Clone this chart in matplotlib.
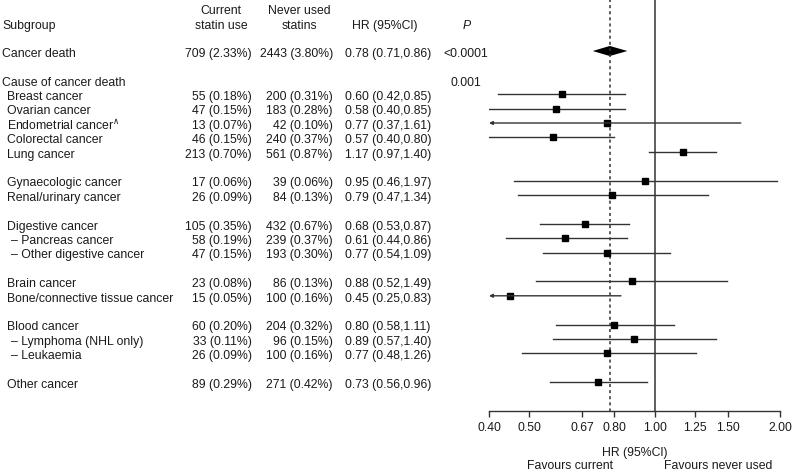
import matplotlib.pyplot as plt
import matplotlib.ticker as mticker

plt.rcParams['font.family'] = ['Liberation Sans', 'DejaVu Sans']
fs = 8.8
ink = '#1a1a1a'
line_c = '#333333'

# data
subgroups = ["Cancer death", "Cause of cancer death", "Breast cancer", "Ovarian cancer",
             "Endometrial cancer$^{\\wedge}$", "Colorectal cancer", "Lung cancer",
             "Gynaecologic cancer", "Renal/urinary cancer",
             "Digestive cancer", "\u2013 Pancreas cancer", "\u2013 Other digestive cancer",
             "Brain cancer", "Bone/connective tissue cancer",
             "Blood cancer", "\u2013 Lymphoma (NHL only)", "\u2013 Leukaemia",
             "Other cancer"]
rows = [0, 2, 3, 4, 5, 6, 7, 9, 10, 12, 13, 14, 16, 17, 19, 20, 21, 23]
indent = [0, 0, 1, 1, 1, 1, 1, 1, 1, 1, 2, 2, 1, 1, 1, 2, 2, 1]
current = ["709 (2.33%)", "", "55 (0.18%)", "47 (0.15%)", "13 (0.07%)", "46 (0.15%)",
           "213 (0.70%)", "17 (0.06%)", "26 (0.09%)", "105 (0.35%)", "58 (0.19%)",
           "47 (0.15%)", "23 (0.08%)", "15 (0.05%)", "60 (0.20%)", "33 (0.11%)",
           "26 (0.09%)", "89 (0.29%)"]
never = ["2443 (3.80%)", "", "200 (0.31%)", "183 (0.28%)", "42 (0.10%)", "240 (0.37%)",
         "561 (0.87%)", "39 (0.06%)", "84 (0.13%)", "432 (0.67%)", "239 (0.37%)",
         "193 (0.30%)", "86 (0.13%)", "100 (0.16%)", "204 (0.32%)", "96 (0.15%)",
         "100 (0.16%)", "271 (0.42%)"]
hr = [0.78, None, 0.60, 0.58, 0.77, 0.57, 1.17, 0.95, 0.79, 0.68, 0.61, 0.77,
      0.88, 0.45, 0.80, 0.89, 0.77, 0.73]
lo = [0.71, None, 0.42, 0.40, 0.37, 0.40, 0.97, 0.46, 0.47, 0.53, 0.44, 0.54,
      0.52, 0.25, 0.58, 0.57, 0.48, 0.56]
hi = [0.86, None, 0.85, 0.85, 1.61, 0.80, 1.40, 1.97, 1.34, 0.87, 0.86, 1.09,
      1.49, 0.83, 1.11, 1.40, 1.26, 0.96]
pvals = ["<0.0001", "0.001"] + [""] * 16
ticks = [0.40, 0.50, 0.67, 0.80, 1.00, 1.25, 1.50, 2.00]

W, H = 793, 477
row0, step = 52, 14.4
ytop = (0 - row0) / step
ybot = (H - row0) / step
axis_row = 25
dy = 0.12  # nudge text down so glyphs sit on the row

fig = plt.figure(figsize=(W / 100, H / 100), dpi=100)

# text panel, x in pixels, y in rows
tax = fig.add_axes([0, 0, 1, 1])
tax.set_xlim(0, W)
tax.set_ylim(ybot, ytop)
tax.axis('off')

def t(x, y, s, ha='left', **kw):
    tax.text(x, y + dy, s, ha=ha, va='center', fontsize=fs, color=ink, **kw)

t(2, -1.9, "Subgroup")
t(221, -3.0, "Current", ha='center')
t(221, -1.9, "statin use", ha='center')
t(299, -3.0, "Never used", ha='center')
t(299, -1.9, "statins", ha='center')
t(385, -1.9, "HR (95%Cl)", ha='center')
t(467, -1.9, "P", ha='center', style='italic')

for i, name in enumerate(subgroups):
    r = rows[i]
    t(2 + [0, 5, 9][indent[i]], r, name)
    if current[i]:
        t(252, r, current[i], ha='right')
        t(333, r, never[i], ha='right')
        t(345, r, f"{hr[i]:.2f} ({lo[i]:.2f},{hi[i]:.2f})")
    if pvals[i]:
        t(466, r, pvals[i], ha='center')

t(635, 27.75, "HR (95%Cl)", ha='center')
t(570, 28.65, "Favours current", ha='center')
t(718, 28.65, "Favours never used", ha='center')

# forest panel
x0, x1 = 489, 780
ax = fig.add_axes([x0 / W, 0, (x1 - x0) / W, 1])
ax.patch.set_alpha(0)
ax.set_xscale('log')
ax.set_xlim(0.4, 2.0)
ax.set_ylim(ybot, ytop)
for s in ['top', 'left', 'right']:
    ax.spines[s].set_visible(False)
ax.spines['bottom'].set_position(('data', axis_row))
ax.spines['bottom'].set_color(line_c)
ax.spines['bottom'].set_linewidth(1.0)
ax.yaxis.set_visible(False)
ax.xaxis.set_major_locator(mticker.FixedLocator(ticks))
ax.xaxis.set_minor_locator(mticker.NullLocator())
ax.xaxis.set_major_formatter(mticker.FixedFormatter([f"{v:.2f}" for v in ticks]))
ax.tick_params(axis='x', direction='out', length=4, width=1.0, color=line_c,
               labelsize=fs, labelcolor=ink, pad=3)

ax.plot([1.0, 1.0], [ytop, axis_row], color=line_c, lw=1.1, clip_on=False)
ax.plot([hr[0], hr[0]], [ytop, axis_row], color=line_c, lw=1.1,
        linestyle=(0, (2, 2)), clip_on=False)

for i in range(len(subgroups)):
    if hr[i] is None:
        continue
    r = rows[i]
    if i == 0:
        ax.fill([lo[i], hr[i], hi[i], hr[i]], [r, r - 0.35, r, r + 0.35],
                color='black', lw=0)
        continue
    if lo[i] < 0.4:
        ax.annotate('', xy=(0.4, r), xytext=(hi[i], r),
                    arrowprops=dict(arrowstyle='-|>', color=line_c, lw=1.0,
                                    shrinkA=0, shrinkB=0, mutation_scale=5))
    else:
        ax.plot([lo[i], hi[i]], [r, r], color=line_c, lw=1.0)
    ax.plot(hr[i], r, marker='s', color='black', markersize=4.8)

fig.savefig('out.png', dpi=100)
